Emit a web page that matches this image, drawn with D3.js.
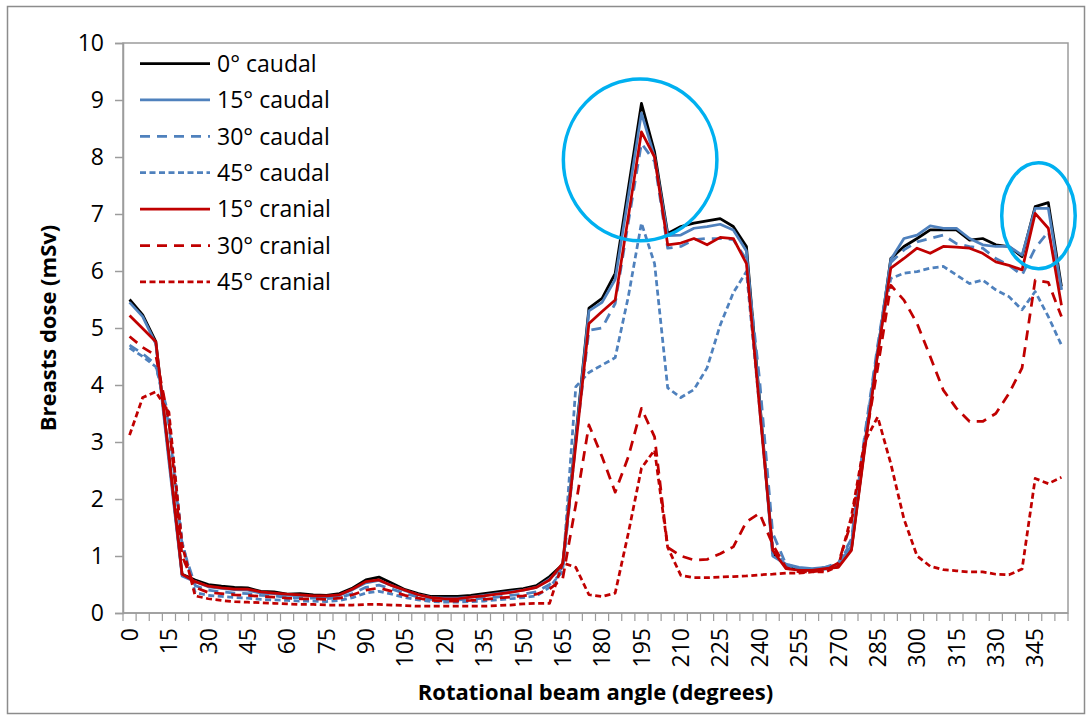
<!DOCTYPE html>
<html>
<head>
<meta charset="utf-8">
<script src="https://cdn.jsdelivr.net/npm/d3@7"></script>
<style>
  body { margin: 0; background: #fff; }
  svg { display: block; }
  text { font-family: 'Open Sans', 'Noto Sans', sans-serif; fill: #000; }
</style>
</head>
<body>
<svg id="chart" width="1089" height="719"></svg>
<script>
// Rotational beam angle categories (degrees)
const angles = [0, 5, 10, 15, 20, 25, 30, 35, 40, 45, 50, 55, 60, 65, 70, 75, 80, 85, 90, 95,
  100, 105, 110, 115, 120, 125, 130, 135, 140, 145, 150, 155, 160, 165, 170, 175, 180, 185, 190, 195,
  200, 205, 210, 215, 220, 225, 230, 235, 240, 245, 250, 255, 260, 265, 270, 275, 280, 285, 290, 295,
  300, 305, 310, 315, 320, 325, 330, 335, 340, 345, 350, 355];

// Labelled angles on the x axis
const xTickLabels = [0, 15, 30, 45, 60, 75, 90, 105, 120, 135, 150, 165, 180, 195, 210, 225, 240,
  255, 270, 285, 300, 315, 330, 345];

// Dose ticks (mSv)
const yTicks = [0, 1, 2, 3, 4, 5, 6, 7, 8, 9, 10];

// Breast dose (mSv) per beam angle
const caudal0 = [5.50, 5.23, 4.76, 2.75, 0.68, 0.58, 0.50, 0.47, 0.45, 0.44, 0.38, 0.37, 0.33, 0.34, 0.32, 0.31, 0.34, 0.44, 0.58, 0.63,
  0.52, 0.41, 0.34, 0.29, 0.29, 0.29, 0.31, 0.34, 0.37, 0.40, 0.43, 0.48, 0.64, 0.85, 3.10, 5.35, 5.52, 5.96, 7.45, 8.94,
  8.09, 6.66, 6.78, 6.84, 6.88, 6.92, 6.78, 6.43, 3.75, 1.05, 0.82, 0.76, 0.76, 0.79, 0.82, 1.12, 2.90, 4.58, 6.22, 6.43,
  6.57, 6.72, 6.72, 6.72, 6.54, 6.57, 6.46, 6.43, 6.25, 7.13, 7.20, 5.73];

const caudal15 = [5.45, 5.20, 4.72, 2.65, 0.65, 0.55, 0.46, 0.43, 0.41, 0.40, 0.35, 0.34, 0.31, 0.31, 0.29, 0.28, 0.31, 0.41, 0.53, 0.57,
  0.48, 0.39, 0.32, 0.27, 0.26, 0.26, 0.28, 0.31, 0.34, 0.37, 0.40, 0.45, 0.60, 0.80, 3.05, 5.30, 5.45, 5.85, 7.30, 8.77,
  8.00, 6.62, 6.63, 6.75, 6.78, 6.82, 6.72, 6.35, 3.70, 1.00, 0.86, 0.80, 0.78, 0.80, 0.85, 1.18, 2.95, 4.60, 6.20, 6.57,
  6.63, 6.79, 6.75, 6.75, 6.57, 6.46, 6.43, 6.43, 6.28, 7.10, 7.10, 5.67];

const caudal30 = [4.70, 4.55, 4.36, 3.30, 1.20, 0.48, 0.40, 0.37, 0.35, 0.34, 0.31, 0.30, 0.27, 0.27, 0.26, 0.25, 0.27, 0.34, 0.45, 0.49,
  0.42, 0.34, 0.28, 0.24, 0.23, 0.23, 0.24, 0.26, 0.28, 0.31, 0.33, 0.37, 0.50, 0.72, 3.00, 4.96, 5.00, 5.43, 6.85, 8.24,
  7.92, 6.40, 6.43, 6.55, 6.57, 6.57, 6.55, 6.20, 4.10, 1.40, 0.86, 0.78, 0.76, 0.80, 0.88, 1.30, 3.10, 4.70, 6.15, 6.37,
  6.51, 6.57, 6.63, 6.48, 6.43, 6.40, 6.22, 6.10, 5.93, 6.40, 6.69, 5.67];

const caudal45 = [4.65, 4.50, 4.32, 3.45, 1.25, 0.36, 0.31, 0.29, 0.27, 0.26, 0.24, 0.23, 0.22, 0.21, 0.21, 0.20, 0.22, 0.27, 0.35, 0.38,
  0.33, 0.27, 0.23, 0.20, 0.19, 0.19, 0.20, 0.21, 0.23, 0.25, 0.27, 0.30, 0.45, 0.75, 3.97, 4.22, 4.35, 4.48, 5.55, 6.84,
  6.13, 3.95, 3.78, 3.92, 4.30, 5.05, 5.62, 5.99, 3.60, 1.15, 0.82, 0.76, 0.74, 0.77, 0.86, 1.25, 3.05, 4.65, 5.87, 5.96,
  5.99, 6.05, 6.08, 5.93, 5.78, 5.84, 5.67, 5.55, 5.32, 5.64, 5.20, 4.70];

const cranial15 = [5.22, 4.99, 4.76, 2.75, 0.68, 0.55, 0.47, 0.44, 0.42, 0.42, 0.37, 0.35, 0.33, 0.32, 0.30, 0.30, 0.32, 0.42, 0.55, 0.58,
  0.48, 0.40, 0.32, 0.27, 0.25, 0.25, 0.28, 0.30, 0.33, 0.36, 0.40, 0.45, 0.58, 0.87, 2.95, 5.08, 5.29, 5.49, 6.95, 8.44,
  8.00, 6.46, 6.49, 6.57, 6.46, 6.59, 6.57, 6.13, 3.60, 1.10, 0.78, 0.75, 0.75, 0.78, 0.80, 1.10, 2.85, 4.55, 6.05, 6.22,
  6.40, 6.31, 6.43, 6.42, 6.40, 6.31, 6.16, 6.10, 6.02, 7.01, 6.75, 5.40];

const cranial30 = [4.85, 4.66, 4.52, 3.35, 1.00, 0.45, 0.36, 0.34, 0.32, 0.31, 0.29, 0.28, 0.26, 0.25, 0.25, 0.24, 0.26, 0.32, 0.40, 0.44,
  0.38, 0.31, 0.26, 0.22, 0.21, 0.21, 0.22, 0.24, 0.26, 0.28, 0.30, 0.33, 0.42, 0.60, 1.90, 3.30, 2.74, 2.12, 2.74, 3.59,
  3.09, 1.15, 1.00, 0.93, 0.94, 1.04, 1.16, 1.60, 1.75, 1.20, 0.80, 0.72, 0.72, 0.75, 0.88, 1.60, 2.95, 4.30, 5.75, 5.49,
  5.08, 4.50, 3.91, 3.59, 3.36, 3.36, 3.50, 3.85, 4.30, 5.84, 5.80, 5.20];

const cranial45 = [3.12, 3.78, 3.88, 3.52, 1.20, 0.30, 0.25, 0.22, 0.20, 0.19, 0.18, 0.17, 0.16, 0.15, 0.15, 0.14, 0.14, 0.14, 0.15, 0.15,
  0.14, 0.13, 0.12, 0.12, 0.12, 0.12, 0.12, 0.12, 0.13, 0.14, 0.16, 0.17, 0.17, 0.88, 0.80, 0.32, 0.29, 0.35, 1.40, 2.54,
  2.86, 1.15, 0.66, 0.62, 0.62, 0.63, 0.64, 0.65, 0.67, 0.68, 0.70, 0.70, 0.72, 0.72, 0.82, 1.70, 3.00, 3.44, 2.62, 1.65,
  1.00, 0.82, 0.76, 0.74, 0.72, 0.72, 0.68, 0.67, 0.77, 2.36, 2.27, 2.38];

const seriesNames = ['0° caudal', '15° caudal', '30° caudal', '45° caudal', '15° cranial', '30° cranial', '45° cranial'];
const seriesValues = [caudal0, caudal15, caudal30, caudal45, cranial15, cranial30, cranial45];

// Line styles
const BLUE = '#4f81bd', RED = '#c00000', BLACK = '#000000';
const LONG_DASH = '10,7', SHORT_DASH = '6,3.5';
const seriesStyles = [
  { color: BLACK, dash: null },
  { color: BLUE, dash: null },
  { color: BLUE, dash: LONG_DASH },
  { color: BLUE, dash: SHORT_DASH },
  { color: RED, dash: null },
  { color: RED, dash: LONG_DASH },
  { color: RED, dash: SHORT_DASH }
];

const W = 1089, H = 719;
const plot = { left: 123, right: 1068, top: 43, bottom: 613 };
const AXIS_GREY = '#9c9c9c';

const svg = d3.select('#chart');
svg.append('rect').attr('width', W).attr('height', H).attr('fill', '#fff');

// chart area frame
svg.append('rect')
  .attr('x', 7.5).attr('y', 6.5).attr('width', 1077).attr('height', 707)
  .attr('fill', 'none').attr('stroke', '#8c8c8c').attr('stroke-width', 1.5);

const x = d3.scaleBand().domain(angles).range([plot.left, plot.right]).padding(0);
const y = d3.scaleLinear().domain([0, 10]).range([plot.bottom, plot.top]);
const xc = a => x(a) + x.bandwidth() / 2;

// plot area frame
svg.append('rect')
  .attr('x', plot.left).attr('y', plot.top)
  .attr('width', plot.right - plot.left).attr('height', plot.bottom - plot.top)
  .attr('fill', 'none').attr('stroke', AXIS_GREY).attr('stroke-width', 1.5);

// y axis
const yAxis = svg.append('g')
  .attr('transform', `translate(${plot.left},0)`)
  .call(d3.axisLeft(y).tickValues(yTicks).tickSize(8).tickPadding(11).tickFormat(d3.format('d')));
yAxis.select('.domain').attr('stroke', AXIS_GREY).attr('stroke-width', 1.5);
yAxis.selectAll('.tick line').attr('stroke', AXIS_GREY).attr('stroke-width', 1.5);
yAxis.selectAll('.tick text').style('font-size', '23px').attr('fill', '#000');

// x axis: tick marks on category boundaries, labels every third category
const xAxisG = svg.append('g').attr('class', 'x-axis');
xAxisG.append('line')
  .attr('x1', plot.left).attr('x2', plot.right)
  .attr('y1', plot.bottom).attr('y2', plot.bottom)
  .attr('stroke', AXIS_GREY).attr('stroke-width', 1.5);
const boundaries = angles.map(a => x(a)).concat([x(angles[angles.length - 1]) + x.bandwidth()]);
xAxisG.selectAll('line.tick')
  .data(boundaries)
  .join('line')
  .attr('class', 'tick')
  .attr('x1', d => d).attr('x2', d => d)
  .attr('y1', plot.bottom).attr('y2', plot.bottom + 8)
  .attr('stroke', AXIS_GREY).attr('stroke-width', 1.2);
xAxisG.selectAll('text.tick-label')
  .data(xTickLabels)
  .join('text')
  .attr('class', 'tick-label')
  .attr('transform', d => `translate(${xc(d)},${plot.bottom + 15}) rotate(-90)`)
  .attr('text-anchor', 'end')
  .attr('dy', '0.36em')
  .style('font-size', '23px')
  .text(d => d);

// axis titles
svg.append('text')
  .attr('x', (plot.left + plot.right) / 2).attr('y', 700)
  .attr('text-anchor', 'middle')
  .style('font-size', '22px').style('font-weight', 'bold')
  .text('Rotational beam angle (degrees)');
svg.append('text')
  .attr('transform', `translate(48,${(plot.top + plot.bottom) / 2}) rotate(-90)`)
  .attr('text-anchor', 'middle').attr('dy', '0.36em')
  .style('font-size', '22px').style('font-weight', 'bold')
  .text('Breasts dose (mSv)');

// series lines
const line = d3.line()
  .x((d, i) => xc(angles[i]))
  .y(d => y(d));

const linesG = svg.append('g').attr('class', 'series');
linesG.selectAll('path')
  .data(seriesValues)
  .join('path')
  .attr('d', d => line(d))
  .attr('fill', 'none')
  .attr('stroke', (d, i) => seriesStyles[i].color)
  .attr('stroke-width', 2.75)
  .attr('stroke-linejoin', 'round')
  .attr('stroke-dasharray', (d, i) => seriesStyles[i].dash);

// legend
const legend = svg.append('g').attr('class', 'legend');
const legendRows = legend.selectAll('g')
  .data(seriesNames)
  .join('g')
  .attr('transform', (d, i) => `translate(140,${63.5 + i * 36.4})`);
legendRows.append('line')
  .attr('x1', 0).attr('x2', 70).attr('y1', 0).attr('y2', 0)
  .attr('stroke', (d, i) => seriesStyles[i].color)
  .attr('stroke-width', 2.75)
  .attr('stroke-dasharray', (d, i) => seriesStyles[i].dash);
legendRows.append('text')
  .attr('x', 77).attr('y', 0).attr('dy', '0.36em')
  .style('font-size', '23px')
  .text(d => d);

// highlighted peaks
const bw = x.bandwidth();
const unit = y(0) - y(1);
const highlights = [
  { angle: 195, shift: -0.1, dose: 7.95, rxCats: 5.85, ryDose: 1.42 },
  { angle: 345, shift: 0.25, dose: 6.97, rxCats: 2.8, ryDose: 0.93 }
];
svg.append('g').selectAll('ellipse')
  .data(highlights)
  .join('ellipse')
  .attr('cx', d => xc(d.angle) + d.shift * bw)
  .attr('cy', d => y(d.dose))
  .attr('rx', d => d.rxCats * bw)
  .attr('ry', d => d.ryDose * unit)
  .attr('fill', 'none')
  .attr('stroke', '#00b0f0')
  .attr('stroke-width', 3.5);
</script>
</body>
</html>
